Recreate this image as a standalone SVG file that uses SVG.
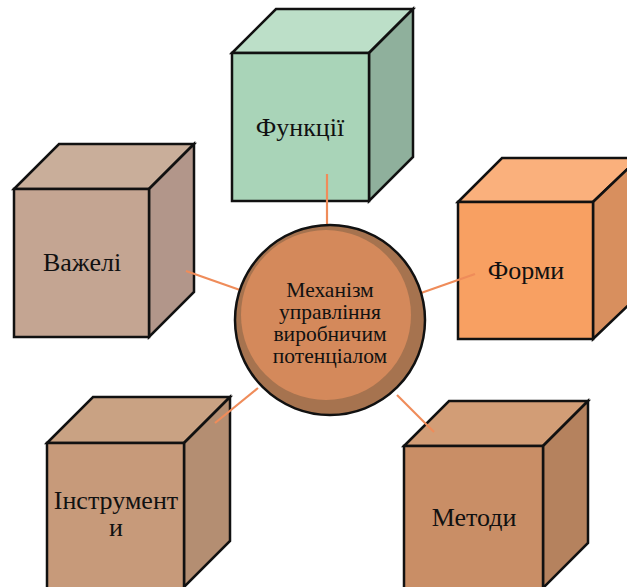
<svg xmlns="http://www.w3.org/2000/svg" width="627" height="587" viewBox="0 0 627 587">
<style>
.edge{stroke:#111;stroke-width:2.5;stroke-linejoin:miter}
.lbl{font-family:"Liberation Serif","Times New Roman","DejaVu Serif",serif;font-size:26px;fill:#111;text-anchor:middle}
.ctr{font-family:"Liberation Serif","Times New Roman","DejaVu Serif",serif;font-size:21.5px;fill:#111;text-anchor:middle}
.con{stroke:#ef8c5a;stroke-width:2.2;fill:none}
</style>
<rect width="627" height="587" fill="#fff"/>
<g id="node-funktsii">
<polygon class="edge" points="232,53 276,9 413,9 369,53" fill="#bcdfc8"/>
<polygon class="edge" points="369,53 413,9 413,157 369,201" fill="#8fb09c"/>
<rect class="edge" x="232" y="53" width="137" height="148" fill="#a9d4b8"/>
<text class="lbl" x="300" y="136">Функції</text>
</g>
<g id="node-vazheli">
<polygon class="edge" points="14,189 59,144 194,144 149,189" fill="#c9ae9a"/>
<polygon class="edge" points="149,189 194,144 194,292 149,337" fill="#b2968a"/>
<rect class="edge" x="14" y="189" width="135" height="148" fill="#c4a592"/>
<text class="lbl" x="82" y="271">Важелі</text>
</g>
<g id="node-formy">
<polygon class="edge" points="458,202 502,158 639,158 593,202" fill="#fab07c"/>
<polygon class="edge" points="593,202 639,158 639,295 593,339" fill="#d88f5e"/>
<rect class="edge" x="458" y="202" width="135" height="137" fill="#f8a062"/>
<text class="lbl" x="526" y="279">Форми</text>
</g>
<g id="node-instrumenty">
<polygon class="edge" points="47,443 93,397 230,397 184,443" fill="#c9a283"/>
<polygon class="edge" points="184,443 230,397 230,541 184,587" fill="#b48e72"/>
<rect class="edge" x="47" y="443" width="137" height="146" fill="#c79a7a"/>
<text class="lbl" x="116" y="509">Інструмент</text>
<text class="lbl" x="116" y="536">и</text>
</g>
<g id="node-metody">
<polygon class="edge" points="404,446 449,401 588,401 543,446" fill="#d29d76"/>
<polygon class="edge" points="543,446 588,401 588,543 543,588" fill="#b5825e"/>
<rect class="edge" x="404" y="446" width="139" height="143" fill="#c98e66"/>
<text class="lbl" x="474" y="526">Методи</text>
</g>
<g id="connectors">
<line class="con" x1="327" y1="174" x2="327" y2="226"/>
<line class="con" x1="186" y1="271" x2="240" y2="290"/>
<line class="con" x1="421" y1="293" x2="475" y2="274"/>
<line class="con" x1="258" y1="388" x2="215" y2="423"/>
<line class="con" x1="397" y1="395" x2="434" y2="432"/>
</g>
<g id="node-center">
<circle cx="330" cy="320" r="95" fill="#a6734f" stroke="#111" stroke-width="2.5"/>
<circle cx="326" cy="315" r="85" fill="#d4895b"/>
<text class="ctr" x="330" y="297">Механізм</text>
<text class="ctr" x="330" y="319">управління</text>
<text class="ctr" x="330" y="341">виробничим</text>
<text class="ctr" x="330" y="363">потенціалом</text>
</g>
</svg>
